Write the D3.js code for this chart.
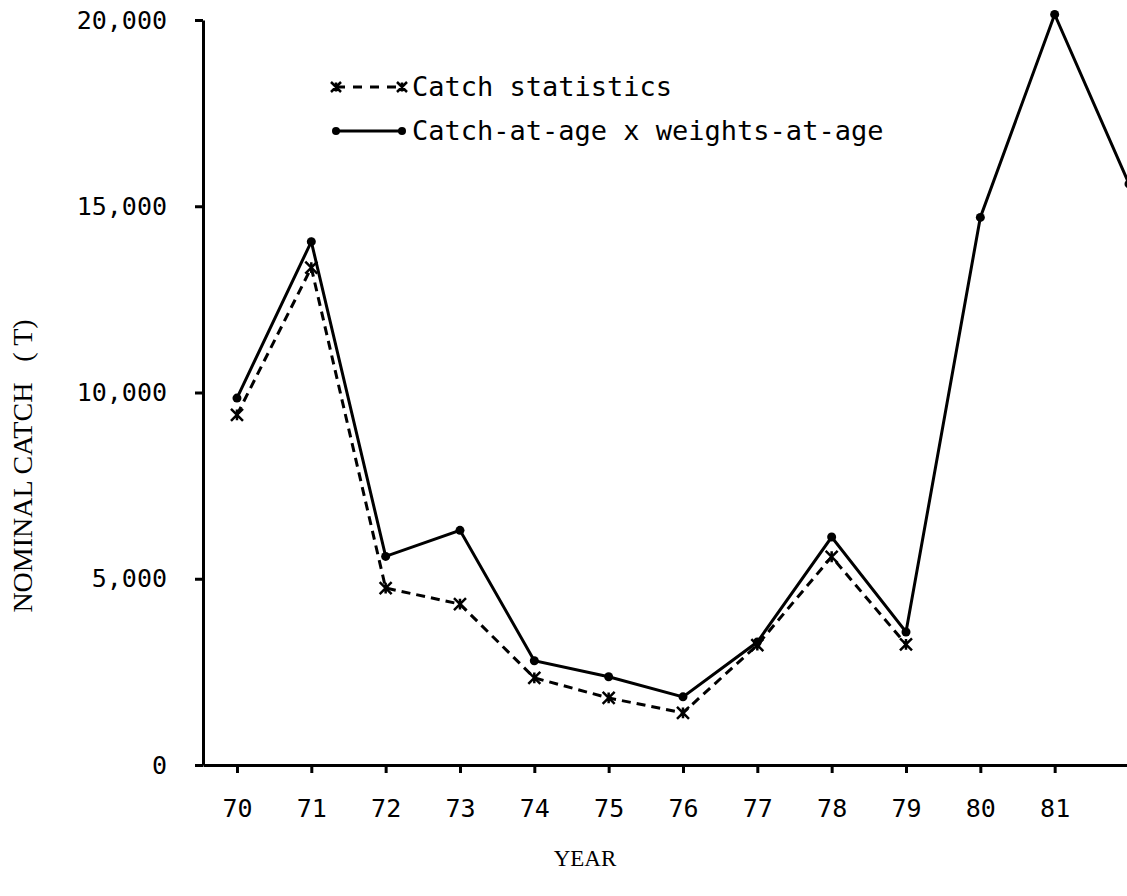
<!DOCTYPE html>
<html>
<head>
<meta charset="utf-8">
<script src="https://cdn.jsdelivr.net/npm/d3@7"></script>
<style>
  html, body { margin: 0; padding: 0; background: #fff; }
  svg { display: block; }
</style>
</head>
<body>
<svg id="chart" width="1127" height="896"></svg>
<script>
// ---- data ----
const years = [70, 71, 72, 73, 74, 75, 76, 77, 78, 79, 80, 81, 82];
const catchAtAge = [9850, 14050, 5600, 6300, 2800, 2370, 1830, 3300, 6120, 3570, 14700, 20150, 15600];
const catchStatYears = [70, 71, 72, 73, 74, 75, 76, 77, 78, 79];
const catchStatistics = [9400, 13350, 4750, 4320, 2340, 1800, 1400, 3220, 5590, 3240];
const yTicks = [0, 5000, 10000, 15000, 20000];
const xTicks = [70, 71, 72, 73, 74, 75, 76, 77, 78, 79, 80, 81];
const legendLabels = ["Catch statistics", "Catch-at-age x weights-at-age"];

const svg = d3.select("#chart");
const mono = "'DejaVu Sans Mono', 'Liberation Mono', monospace";
const serif = "'Liberation Serif', 'DejaVu Serif', serif";

const x = d3.scaleLinear().domain([69.543, 82]).range([203, 1129]);
const y = d3.scaleLinear().domain([0, 20000]).range([765, 20]);

// axes
const xAxis = d3.axisBottom(x).tickValues(xTicks).tickSize(8).tickPadding(26).tickSizeOuter(0)
  .tickFormat(d => String(d));
const gx = svg.append("g").attr("transform", `translate(0,${y(0)})`).call(xAxis);
gx.select(".domain").attr("stroke", "#000").attr("stroke-width", 3);
gx.selectAll(".tick line").attr("stroke", "#000").attr("stroke-width", 3);
gx.selectAll(".tick text").attr("font-family", mono).attr("font-size", 25).attr("fill", "#000");

const yAxis = d3.axisLeft(y).tickValues(yTicks).tickSize(8).tickPadding(28).tickSizeOuter(0)
  .tickFormat(d3.format(","));
const gy = svg.append("g").attr("transform", `translate(${x.range()[0]},0)`).call(yAxis);
gy.select(".domain").attr("stroke", "#000").attr("stroke-width", 3);
gy.selectAll(".tick line").attr("stroke", "#000").attr("stroke-width", 3);
gy.selectAll(".tick text").attr("font-family", mono).attr("font-size", 25).attr("fill", "#000");

// axis titles
svg.append("text").attr("x", 585).attr("y", 866).attr("text-anchor", "middle")
  .attr("font-family", serif).attr("font-size", 23).attr("fill", "#000").text("YEAR");
svg.append("text").attr("transform", "translate(32,466) rotate(-90)").attr("text-anchor", "middle")
  .attr("font-family", serif).attr("font-size", 28).attr("fill", "#000")
  .style("white-space", "pre").attr("xml:space", "preserve").text("NOMINAL CATCH   ( T)");

// lines
const line = d3.line().x(d => x(d[0])).y(d => y(d[1]));
const solidData = years.map((yr, i) => [yr, catchAtAge[i]]);
const dashData = catchStatYears.map((yr, i) => [yr, catchStatistics[i]]);

svg.append("path").datum(dashData).attr("d", line).attr("fill", "none")
  .attr("stroke", "#000").attr("stroke-width", 3).attr("stroke-dasharray", "9,6");
svg.append("path").datum(solidData).attr("d", line).attr("fill", "none")
  .attr("stroke", "#000").attr("stroke-width", 3);

function starPath(cx, cy, r) {
  return `M${cx - r},${cy - r}L${cx + r},${cy + r}M${cx - r},${cy + r}L${cx + r},${cy - r}` +
         `M${cx},${cy - r * 0.9}L${cx},${cy + r * 0.9}`;
}
svg.append("g").selectAll("path").data(dashData).join("path")
  .attr("d", d => starPath(x(d[0]), y(d[1]), 6))
  .attr("stroke", "#000").attr("stroke-width", 2.5).attr("fill", "none");
svg.append("g").selectAll("circle").data(solidData).join("circle")
  .attr("cx", d => x(d[0])).attr("cy", d => y(d[1])).attr("r", 4.5).attr("fill", "#000");

// legend
const lg = svg.append("g");
lg.append("line").attr("x1", 336).attr("x2", 402).attr("y1", 87).attr("y2", 87)
  .attr("stroke", "#000").attr("stroke-width", 3).attr("stroke-dasharray", "9,8");
lg.append("path").attr("d", starPath(336, 87, 5) + starPath(402, 87, 5))
  .attr("stroke", "#000").attr("stroke-width", 2.5).attr("fill", "none");
lg.append("line").attr("x1", 336).attr("x2", 402).attr("y1", 131).attr("y2", 131)
  .attr("stroke", "#000").attr("stroke-width", 3);
lg.selectAll("circle").data([336, 402]).join("circle")
  .attr("cx", d => d).attr("cy", 131).attr("r", 4).attr("fill", "#000");
lg.selectAll("text").data(legendLabels).join("text")
  .attr("x", 412).attr("y", (d, i) => 96 + i * 44)
  .attr("font-family", mono).attr("font-size", 27).attr("fill", "#000").text(d => d);
</script>
</body>
</html>
